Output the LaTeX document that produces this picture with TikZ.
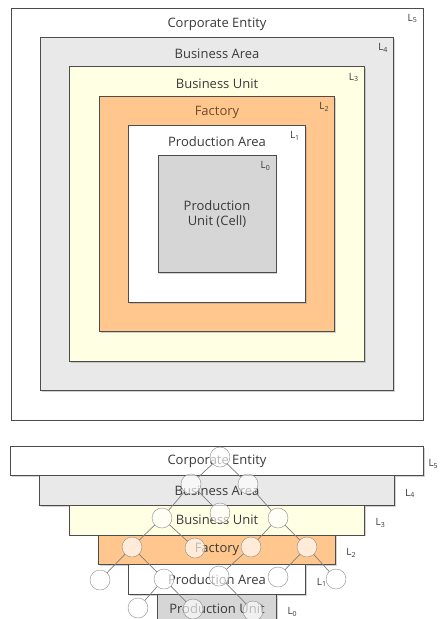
\documentclass[tikz,border=0pt]{standalone}
\usepackage{fontspec}
\setmainfont{Open Sans}
\usetikzlibrary{shadows}

\definecolor{areagray}{HTML}{E9E9E9}
\definecolor{unityellow}{HTML}{FFFFE4}
\definecolor{factoryorange}{HTML}{FFC78E}
\definecolor{cellgray}{HTML}{D6D6D6}
\definecolor{inkgray}{HTML}{3A3A3A}
\definecolor{factoryink}{HTML}{6E4A2C}

\begin{document}
\begin{tikzpicture}[x=1pt, y=-1pt, text=inkgray,
        font=\fontsize{13}{15}\selectfont,
        level/.style = {draw=black!70, line width=1pt,
            drop shadow={shadow xshift=1.4pt, shadow yshift=-1.4pt, opacity=0.35}},
        tag/.style = {font=\fontsize{10}{11}\selectfont},
        unit/.style = {circle, draw=black!45, fill=white, fill opacity=0.65,
            text opacity=1, minimum size=20pt, inner sep=0pt},
        link/.style = {draw=black!50, line width=0.7pt}]
    \useasboundingbox (0,0) rectangle (442,619);
    \clip (0,0) rectangle (442,619);

    % nested squares, outermost first
    \foreach \i/\col/\txt in {5/white/Corporate Entity, 4/areagray/Business Area,
            3/unityellow/Business Unit, 2/factoryorange/{\color{factoryink}Factory},
            1/white/Production Area}{
        \pgfmathsetmacro\sqside{412-58.8*(5-\i)}
        \node[level, fill=\col, minimum width=\sqside pt, minimum height=\sqside pt] (sq\i) at (217,214) {};
        \node at ([yshift=-17pt]sq\i.north) {\txt};
        \node[tag] at ([xshift=-11pt, yshift=-11pt]sq\i.north east) {L\textsubscript{\i}};
    }
    \node[level, fill=cellgray, minimum width=118pt, minimum height=117pt,
        align=center] (sq0) at (217,214) {Production\\Unit (Cell)};
    \node[tag] at ([xshift=-11pt, yshift=-11pt]sq0.north east) {L\textsubscript{0}};

    % the same levels as a stack of bars
    \foreach \i/\col/\txt in {5/white/Corporate Entity, 4/areagray/Business Area,
            3/unityellow/Business Unit, 2/factoryorange/Factory,
            1/white/Production Area, 0/cellgray/Production Unit}{
        \pgfmathsetmacro\barwidth{413-58.8*(5-\i)}
        \pgfmathsetmacro\tagshift{\i==5 ? 1 : 7}
        \node[level, fill=\col, minimum width=\barwidth pt, minimum height=29.6pt]
            (bar\i) at (217,{461+29.6*(5-\i)}) {\txt};
        \node[tag, anchor=west] at ([xshift=\tagshift pt, yshift=-3pt]bar\i.east) {L\textsubscript{\i}};
    }

    % unit tree across the bars
    \node[unit] (r) at (220,457) {};
    \node[unit] (a) at (191,484) {};
    \node[unit] (b) at (248,484) {};
    \node[unit] (c) at (162,518) {};
    \node[unit] (d) at (220,513) {};
    \node[unit] (e) at (278,518) {};
    \node[unit] (f1) at (132,547) {};
    \node[unit] (f2) at (195,548) {};
    \node[unit] (f3) at (251,547) {};
    \node[unit] (f4) at (307,547) {};
    \node[unit] (p1) at (100,580) {};
    \node[unit] (p2) at (164,579) {};
    \node[unit] (p3) at (219,576) {};
    \node[unit] (p4) at (278,577) {};
    \node[unit] (p5) at (336,579) {};
    \node[unit] (q1) at (138,608) {};
    \node[unit] (q2) at (193,609) {};
    \node[unit] (q3) at (253,611) {};
    \foreach \u/\v in {r/a, r/b, a/c, a/d, b/e, c/f1, c/f2, e/f3, e/f4,
            f1/p1, f1/p2, f3/p3, f4/p4, f4/p5, p2/q1, p2/q2, p3/q3}
        \draw[link] (\u) -- (\v);
\end{tikzpicture}
\end{document}
